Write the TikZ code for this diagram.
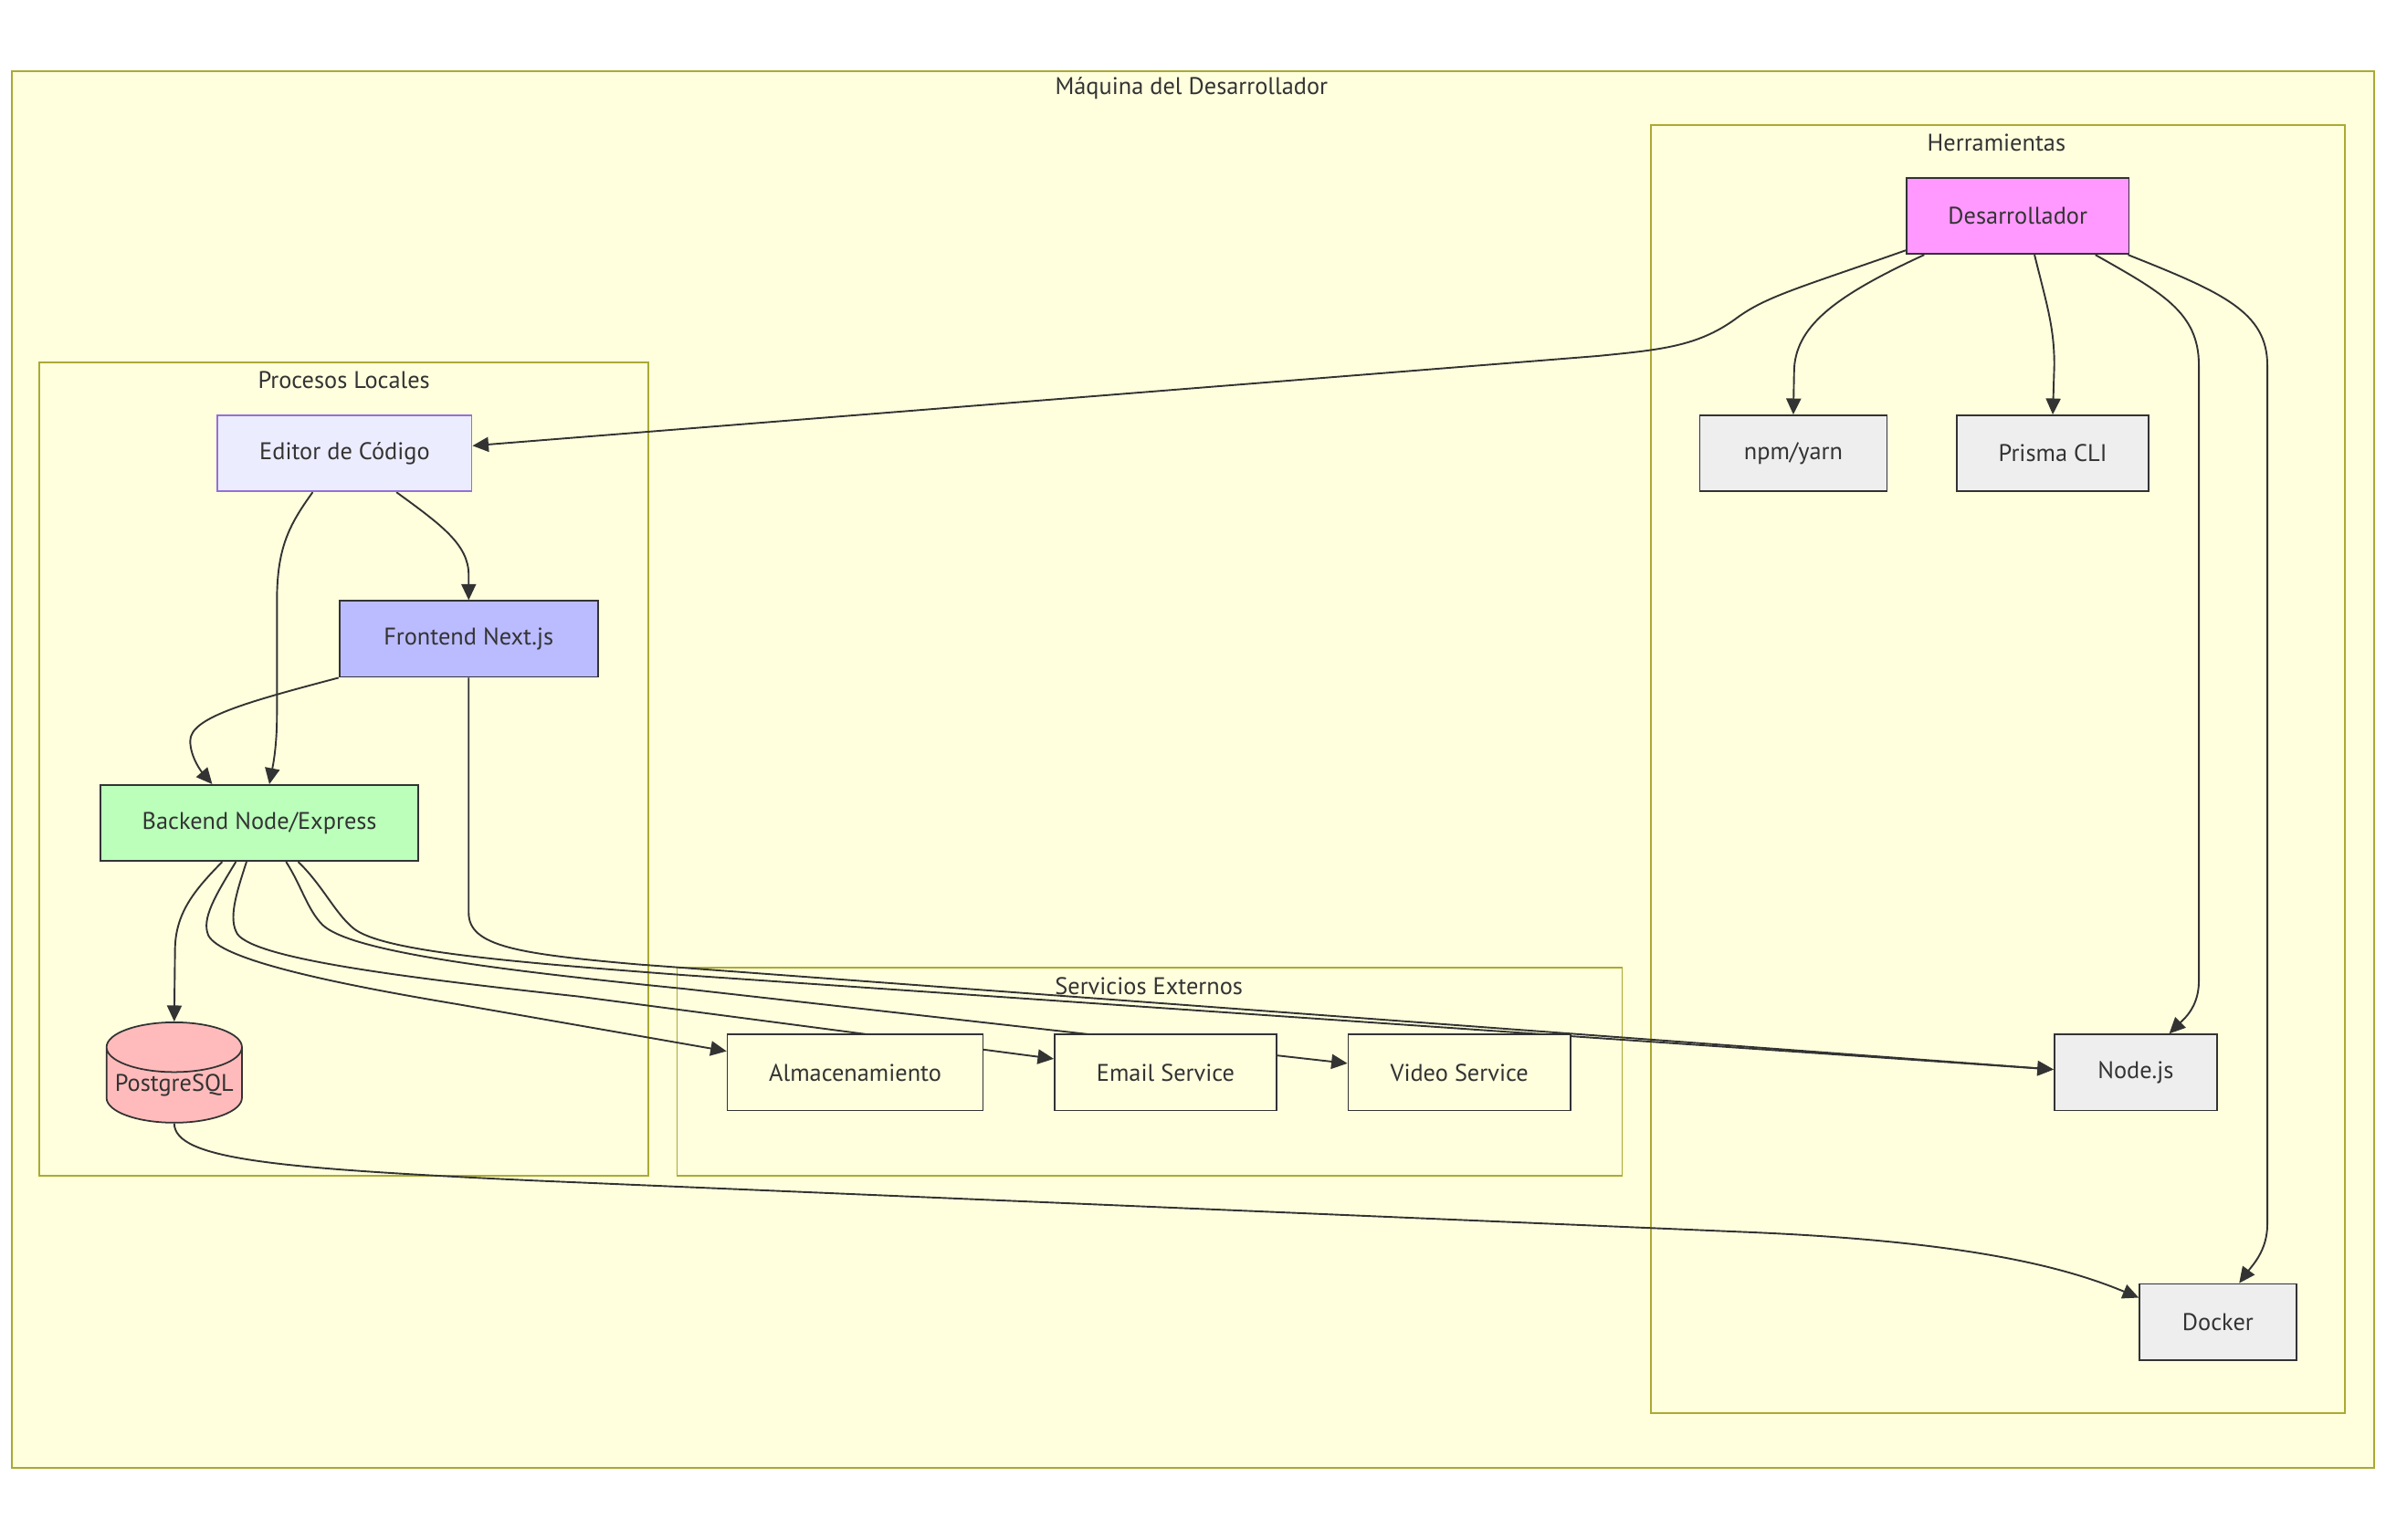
\documentclass[tikz,border=0pt]{standalone}
\usepackage{fontspec}
\setmainfont{PT Sans}
\usetikzlibrary{calc,arrows.meta,shapes.geometric}
\pgfdeclarelayer{bg}
\pgfdeclarelayer{edges}
\pgfsetlayers{bg,edges,main}
\definecolor{clfill}{HTML}{FFFFDE}
\definecolor{clline}{HTML}{AAAA33}
\definecolor{ink}{HTML}{333333}
\definecolor{edfill}{HTML}{ECECFF}
\definecolor{edline}{HTML}{9370DB}
\definecolor{devfill}{HTML}{FF99FF}
\definecolor{frfill}{HTML}{BBBBFF}
\definecolor{bkfill}{HTML}{BBFFBB}
\definecolor{pgfill}{HTML}{FFBBBB}
\definecolor{toolfill}{HTML}{EEEEEE}
\tikzset{
  cluster/.style={draw=clline, fill=clfill, line width=0.6pt},
  cltitle/.style={text=ink, inner sep=0pt, font=\fontsize{9pt}{10pt}\selectfont},
  box/.style={draw=ink, line width=0.6pt, text=ink, minimum height=1cm, inner sep=0pt, font=\fontsize{9pt}{10pt}\selectfont},
  edge/.style={draw=ink, line width=0.65pt, -{Triangle[length=6pt,width=5.5pt]}},
}
\begin{document}
\begin{tikzpicture}[x=0.02cm,y=-0.02cm]
\useasboundingbox (0,0) rectangle (1568,1012);
% clusters
\begin{pgfonlayer}{bg}
\fill[white] (0,0) rectangle (1568,1012);
\draw[cluster] (8,47) rectangle (1560,965);
\draw[cluster] (1085,82) rectangle (1541,929);
\draw[cluster] (26,238) rectangle (426,773);
\draw[cluster] (445,636) rectangle (1066,773);
\node[cltitle] (t0) at (783,58) {Máquina del Desarrollador};
\node[cltitle] (t1) at (1312,94) {Herramientas};
\node[cltitle] (t2) at (226,250) {Procesos Locales};
\node[cltitle] (t3) at (755,648) {Servicios Externos};
\end{pgfonlayer}
% nodes
\node[box, minimum width=2.92cm, fill=devfill] (dev) at (1326,142) {Desarrollador};
\node[box, minimum width=2.46cm, fill=toolfill] (npm) at (1178.5,298) {npm/yarn};
\node[box, minimum width=2.52cm, fill=toolfill] (prisma) at (1349,298) {Prisma CLI};
\node[box, minimum width=2.14cm, fill=toolfill] (nodejs) at (1403.5,705) {Node.js};
\node[box, minimum width=2.06cm, fill=toolfill] (docker) at (1457.5,869) {Docker};
\node[box, minimum width=3.34cm, fill=edfill, draw=edline] (editor) at (226.5,298) {Editor de Código};
\node[box, minimum width=3.40cm, fill=frfill] (front) at (308,420) {Frontend Next.js};
\node[box, minimum width=4.18cm, fill=bkfill] (back) at (170.5,541) {Backend Node/Express};
\node[box, cylinder, shape border rotate=90, aspect=0.42, anchor=shape center, minimum width=1.78cm, minimum height=1.32cm, fill=pgfill] (pg) at (114.5,705) {PostgreSQL};
\node[box, minimum width=3.36cm, fill=clfill] (alm) at (562,705) {Almacenamiento};
\node[box, minimum width=2.92cm, fill=clfill] (email) at (766,705) {Email Service};
\node[box, minimum width=2.92cm, fill=clfill] (video) at (959,705) {Video Service};
% edges
\begin{pgfonlayer}{edges}
\draw[edge] ($(dev.south west)+(0,-3)$) .. controls (1180,190) and (1160,195) .. (1140,210) .. controls (1115,228) and (1090,230) .. (1050,234) -- ($(editor.east)+(0,-5)$);
\draw[edge] ($(dev.south west)+(12,0)$) .. controls (1205,195) and (1179,215) .. (1179,245) -- (npm.north);
\draw[edge] ($(dev.south)+(11,0)$) .. controls (1345,200) and (1350,215) .. (1350,240) -- (prisma.north);
\draw[edge] ($(dev.south)+(51,0)$) .. controls (1420,192) and (1445,205) .. (1445,240) -- (1445,645) .. controls (1445,662) and (1435,670) .. ($(nodejs.north)+(22,0)$);
\draw[edge] ($(dev.south east)+(-1,0)$) .. controls (1460,192) and (1490,205) .. (1490,240) -- (1490,805) .. controls (1490,822) and (1480,832) .. ($(docker.north)+(14,0)$);
\draw[edge] ($(editor.south)+(34,0)$) .. controls (290,345) and (308,358) .. (308,378) -- (front.north);
\draw[edge] ($(editor.south)+(-21,0)$) .. controls (190,345) and (182,360) .. (182,395) -- (182,470) .. controls (182,492) and (179,505) .. ($(back.north)+(6.5,0)$);
\draw[edge] (front.south west) .. controls (160,462) and (125,472) .. (125,487) .. controls (125,498) and (133,508) .. ($(back.north)+(-31,0)$);
\draw[edge] (front.south) -- (308,600) .. controls (308,622) and (340,627) .. (420,634) -- ($(nodejs.west)+(0,-2)$);
\draw[edge] ($(back.south)+(-24.5,0)$) .. controls (128,585) and (115,600) .. (115,625) -- (pg.north);
\draw[edge] ($(back.south)+(-15.5,0)$) .. controls (142,588) and (132,604) .. (137,615) .. controls (145,630) and (210,645) .. (300,660) -- ($(alm.west)+(0,-14)$);
\draw[edge] ($(back.south)+(-8.5,0)$) .. controls (155,588) and (150,604) .. (156,614) .. controls (168,630) and (260,642) .. (380,655) -- ($(email.west)+(0,-9)$);
\draw[edge] ($(back.south)+(17.5,0)$) .. controls (198,582) and (202,598) .. (212,608) .. controls (230,625) and (320,637) .. (450,650) -- ($(video.west)+(0,-6)$);
\draw[edge] ($(back.south)+(25.5,0)$) .. controls (212,582) and (220,600) .. (232,610) .. controls (250,625) and (330,632) .. (450,641) -- ($(nodejs.west)+(0,-2)$);
\draw[edge] (pg.south) .. controls (115,762) and (180,768) .. (350,776) -- (1150,810) .. controls (1290,816) and (1355,832) .. ($(docker.west)+(0,-16)$);
\end{pgfonlayer}
\end{tikzpicture}
\end{document}
